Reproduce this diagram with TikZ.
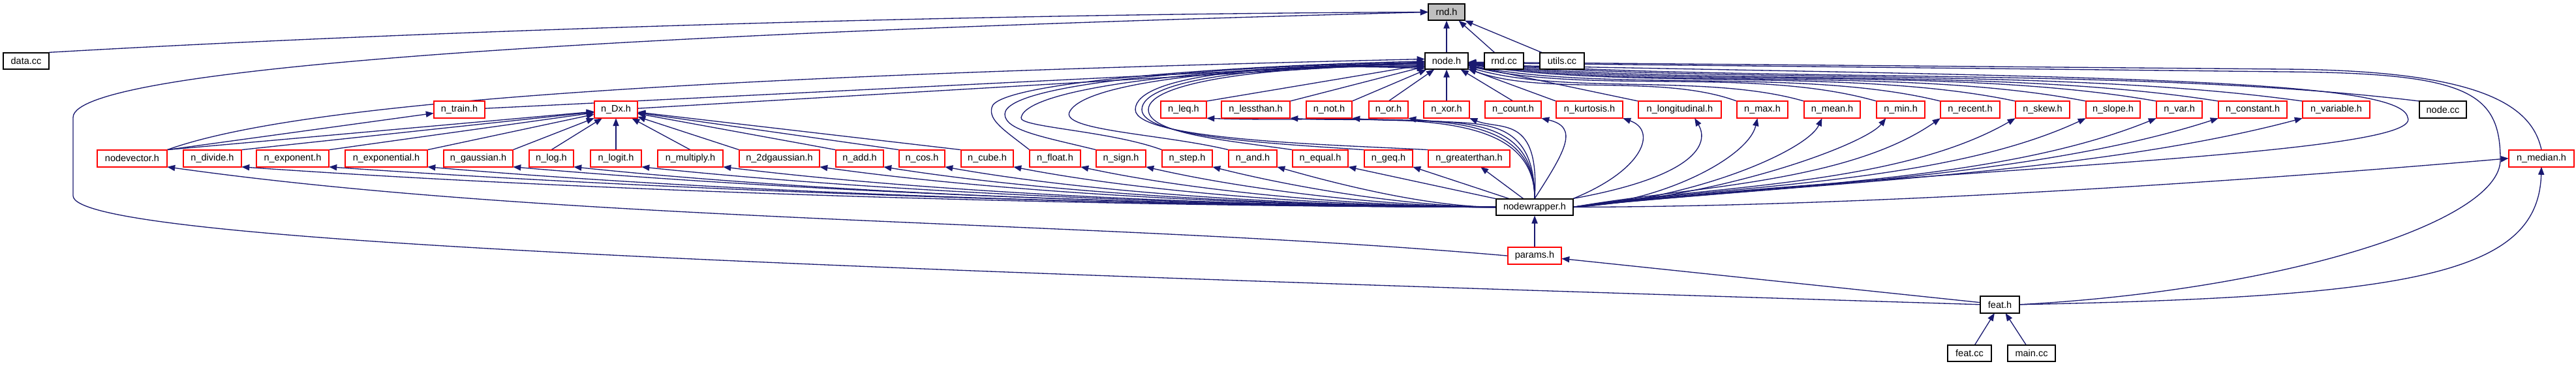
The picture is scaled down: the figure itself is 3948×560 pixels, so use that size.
\documentclass[tikz,border=0pt]{standalone}
\usepackage{fontspec}
\setmainfont{Liberation Sans}
\usepackage{xcolor}
\usepackage{tikz}
\usetikzlibrary{arrows.meta, backgrounds}
\definecolor{edgeblue}{RGB}{25, 25, 112}
\definecolor{rootgray}{RGB}{191, 191, 191}
\tikzset{
  filebox/.style={draw=#1, line width=0.5pt, fill=white, inner sep=0pt,
                  minimum height=25.7pt, font=\fontsize{14.5}{17}\selectfont},
  arr/.style={-{Triangle[length=3pt, width=2.3pt]}, draw=edgeblue, line width=0.33pt},
}

\begin{document}
\begin{tikzpicture}[x=1pt, y=-1pt, scale=0.25, every node/.style={transform shape}]
  \def\rA{18.5} \def\rB{93.4} \def\rC{168.1} \def\rD{242.7}
  \def\rE{317.4} \def\rF{392.1} \def\rG{466.8} \def\rH{541.5}
  \useasboundingbox (0,0) rectangle (3948,560);

  % top rows
  \node[filebox=black, fill=rootgray, minimum width=56] (rndh) at (2217,\rA) {rnd.h};
  \node[filebox=black, minimum width=70] (datacc) at (40,\rB) {data.cc};
  \node[filebox=black, minimum width=66] (nodeh) at (2217,\rB) {node.h};
  \node[filebox=black, minimum width=60] (rndcc) at (2305,\rB) {rnd.cc};
  \node[filebox=black, minimum width=68] (utilscc) at (2394,\rB) {utils.cc};

  \node[filebox=red, minimum width=78] (ntrain) at (704,\rC) {n\_train.h};
  \node[filebox=red, minimum width=66] (ndx) at (944,\rC) {n\_Dx.h};
  \node[filebox=red, minimum width=70] (nleq) at (1814,\rC) {n\_leq.h};
  \node[filebox=red, minimum width=105] (nlessthan) at (1924.5,\rC) {n\_lessthan.h};
  \node[filebox=red, minimum width=70] (nnot) at (2037,\rC) {n\_not.h};
  \node[filebox=red, minimum width=60] (nor) at (2128,\rC) {n\_or.h};
  \node[filebox=red, minimum width=70] (nxor) at (2217,\rC) {n\_xor.h};
  \node[filebox=red, minimum width=86] (ncount) at (2319,\rC) {n\_count.h};
  \node[filebox=red, minimum width=102] (nkurtosis) at (2436,\rC) {n\_kurtosis.h};
  \node[filebox=red, minimum width=127] (nlongitudinal) at (2574.5,\rC) {n\_longitudinal.h};
  \node[filebox=red, minimum width=78] (nmax) at (2701,\rC) {n\_max.h};
  \node[filebox=red, minimum width=86] (nmean) at (2808,\rC) {n\_mean.h};
  \node[filebox=red, minimum width=74] (nmin) at (2913,\rC) {n\_min.h};
  \node[filebox=red, minimum width=91] (nrecent) at (3019.5,\rC) {n\_recent.h};
  \node[filebox=red, minimum width=83] (nskew) at (3130.5,\rC) {n\_skew.h};
  \node[filebox=red, minimum width=83] (nslope) at (3238.5,\rC) {n\_slope.h};
  \node[filebox=red, minimum width=70] (nvar) at (3340,\rC) {n\_var.h};
  \node[filebox=red, minimum width=105] (nconstant) at (3452.5,\rC) {n\_constant.h};
  \node[filebox=red, minimum width=103] (nvariable) at (3580.5,\rC) {n\_variable.h};
  \node[filebox=black, minimum width=72] (nodecc) at (3744,\rC) {node.cc};

  \node[filebox=red, minimum width=107] (nodevector) at (202.5,\rD) {nodevector.h};
  \node[filebox=red, minimum width=89] (ndivide) at (325.5,\rD) {n\_divide.h};
  \node[filebox=red, minimum width=111] (nexponent) at (448.5,\rD) {n\_exponent.h};
  \node[filebox=red, minimum width=126] (nexponential) at (592,\rD) {n\_exponential.h};
  \node[filebox=red, minimum width=106] (ngaussian) at (733,\rD) {n\_gaussian.h};
  \node[filebox=red, minimum width=68] (nlog) at (845,\rD) {n\_log.h};
  \node[filebox=red, minimum width=78] (nlogit) at (944,\rD) {n\_logit.h};
  \node[filebox=red, minimum width=100] (nmultiply) at (1058,\rD) {n\_multiply.h};
  \node[filebox=red, minimum width=123] (ntwodgauss) at (1194.5,\rD) {n\_2dgaussian.h};
  \node[filebox=red, minimum width=73] (nadd) at (1317.5,\rD) {n\_add.h};
  \node[filebox=red, minimum width=70] (ncos) at (1413,\rD) {n\_cos.h};
  \node[filebox=red, minimum width=80] (ncube) at (1513,\rD) {n\_cube.h};
  \node[filebox=red, minimum width=78] (nfloat) at (1617,\rD) {n\_float.h};
  \node[filebox=red, minimum width=76] (nsign) at (1718,\rD) {n\_sign.h};
  \node[filebox=red, minimum width=77] (nstep) at (1819.5,\rD) {n\_step.h};
  \node[filebox=red, minimum width=74] (nand) at (1920,\rD) {n\_and.h};
  \node[filebox=red, minimum width=85] (nequal) at (2023.5,\rD) {n\_equal.h};
  \node[filebox=red, minimum width=74] (ngeq) at (2128,\rD) {n\_geq.h};
  \node[filebox=red, minimum width=125] (ngreaterthan) at (2251.5,\rD) {n\_greaterthan.h};
  \node[filebox=red, minimum width=100] (nmedian) at (3895,\rD) {n\_median.h};

  % lower part
  \node[filebox=black, minimum width=118] (nwrap) at (2352,\rE) {nodewrapper.h};
  \node[filebox=red, minimum width=82] (params) at (2352,\rF) {params.h};
  \node[filebox=black, minimum width=60] (feath) at (3065,\rG) {feat.h};
  \node[filebox=black, minimum width=67] (featcc) at (3018.5,\rH) {feat.cc};
  \node[filebox=black, minimum width=73] (maincc) at (3113.5,\rH) {main.cc};

  \begin{scope}[on background layer]
  \fill[white] (0,0) rectangle (3948,560);

  % who includes rnd.h
  \draw[arr] (nodeh) -- (rndh);
  \draw[arr] (rndcc) -- (rndh.-35);
  \draw[arr] (utilscc) -- (rndh.south east);
  \draw[arr] (datacc.north east) .. controls (600,50) and (1400,22) .. (rndh.west);
  \draw[arr] (feath.west) .. controls (1200,410) and (112,370) .. (112,300)
    -- (112,180) .. controls (112,100) and (1000,50) .. (rndh.west);

  % who includes node.h
  \draw[arr] (nodevector.north east) .. controls (450,160) and (1000,118) .. (nodeh.175);
  \draw[arr] (ntrain) -- (nodeh);
  \draw[arr] (ndx) -- (nodeh);
  \draw[arr] (nleq.north east) -- (nodeh);
  \draw[arr] (nlessthan.north east) -- (nodeh);
  \draw[arr] (nnot.north east) -- (nodeh);
  \draw[arr] (nor.north) -- (nodeh);
  \draw[arr] (nxor) -- (nodeh);
  \draw[arr] (ncount.north) -- (nodeh);
  \draw[arr] (nkurtosis.north west) -- (nodeh);
  \draw[arr] (nlongitudinal.north west) -- (nodeh);
  \draw[arr] (nmax.north west) .. controls (2545,112) and (2367,148) .. (nodeh.-20);
  \draw[arr] (nmean.north west) .. controls (2616,112) and (2399,146) .. (nodeh.-16);
  \draw[arr] (nmin.north west) .. controls (2690,102) and (2439,145) .. (nodeh.-13);
  \draw[arr] (nrecent.north west) .. controls (2763,103) and (2464,142) .. (nodeh.-11);
  \draw[arr] (nskew.north west) .. controls (2843,103) and (2499,138) .. (nodeh.-9);
  \draw[arr] (nslope.north west) .. controls (2917,101) and (2532,138) .. (nodeh.-8);
  \draw[arr] (nvar.north west) .. controls (2993,100) and (2565,136) .. (nodeh.-7);
  \draw[arr] (nconstant.north west) .. controls (3059,101) and (2593,133) .. (nodeh.-6);
  \draw[arr] (nvariable.north west) .. controls (3149,102) and (2632,129) .. (nodeh.-5);
  \draw[arr] (nodecc.north west) .. controls (3273,102) and (2687,127) .. (nodeh.-4);
  \draw[arr] (nfloat.north west) .. controls (1540,200) and (1515,185) .. (1520,165)
    .. controls (1525,125) and (1900,100) .. (nodeh.181);
  \draw[arr] (nsign.north west) .. controls (1600,210) and (1540,200) .. (1540,175)
    .. controls (1540,125) and (1900,100) .. (nodeh.184);
  \draw[arr] (nstep.north west) .. controls (1700,200) and (1560,195) .. (1565,180)
    .. controls (1575,130) and (1900,100) .. (nodeh.187);
  \draw[arr] (nand.north west) .. controls (1780,205) and (1620,200) .. (1640,170)
    .. controls (1670,120) and (1950,100) .. (nodeh.190);
  \draw[arr] (nequal.north west) .. controls (1880,215) and (1760,205) .. (1760,168)
    .. controls (1760,125) and (1950,100) .. (nodeh.193);
  \draw[arr] (ngeq.north west) .. controls (1950,220) and (1750,210) .. (1750,168)
    .. controls (1750,120) and (1950,98) .. (nodeh.196);
  \draw[arr] (ngreaterthan.north west) .. controls (2050,222) and (1740,215) .. (1740,168)
    .. controls (1740,115) and (1950,96) .. (nodeh.199);
  \draw[arr] (nmedian.north) .. controls (3880,160) and (3800,108) .. (3500,106) -- (nodeh.-3);
  \draw[arr] (feath.east) .. controls (3500,445) and (3832,340) .. (3832,245)
    .. controls (3832,140) and (3780,112) .. (3500,110) -- (nodeh.-5);
  \draw[arr] (nwrap.east) .. controls (2900,260) and (3720,240) .. (3690,180)
    .. controls (3680,120) and (3200,118) .. (nodeh.-10);

  % who includes n_Dx.h and n_train.h
  \draw[arr] (nodevector.north east) -- (ntrain);
  \draw[arr] (nodevector.north east) -- (ndx);
  \draw[arr] (ndivide.north east) -- (ndx);
  \draw[arr] (nexponent.north east) -- (ndx);
  \draw[arr] (nexponential.north east) -- (ndx);
  \draw[arr] (ngaussian.north east) -- (ndx);
  \draw[arr] (nlog.north) -- (ndx);
  \draw[arr] (nlogit) -- (ndx);
  \draw[arr] (nmultiply.north) -- (ndx);
  \draw[arr] (ntwodgauss.north west) -- (ndx);
  \draw[arr] (nadd.north west) -- (ndx);
  \draw[arr] (ncos.north west) -- (ndx);
  \draw[arr] (ncube.north west) -- (ndx);

  % what nodewrapper.h pulls in
  \draw[arr] (nwrap.west) .. controls (1716,317) and (945,296) .. (ndivide.south east);
  \draw[arr] (nwrap.west) .. controls (1756,317) and (1040,293) .. (nexponent.south east);
  \draw[arr] (nwrap.west) .. controls (1801,317) and (1145,298) .. (nexponential.south east);
  \draw[arr] (nwrap.west) .. controls (1841,317) and (1236,295) .. (ngaussian.south east);
  \draw[arr] (nwrap.west) .. controls (1868,317) and (1302,300) .. (nlog.south east);
  \draw[arr] (nwrap.west) .. controls (1900,317) and (1374,297) .. (nlogit.south east);
  \draw[arr] (nwrap.west) .. controls (1937,317) and (1461,299) .. (nmultiply.south east);
  \draw[arr] (nwrap.west) .. controls (1981,317) and (1565,299) .. (ntwodgauss.south east);
  \draw[arr] (nwrap.west) .. controls (2011,317) and (1633,300) .. (nadd.south east);
  \draw[arr] (nwrap.west) .. controls (2039,317) and (1698,300) .. (ncos.south east);
  \draw[arr] (nwrap.west) .. controls (2070,317) and (1772,298) .. (ncube.south east);
  \draw[arr] (nwrap.west) .. controls (2101,317) and (1844,296) .. (nfloat.south east);
  \draw[arr] (nwrap.west) .. controls (2131,317) and (1914,292) .. (nsign.south east);
  \draw[arr] (nwrap.west) .. controls (2161,317) and (1986,288) .. (nstep.south east);
  \draw[arr] (nwrap.west) .. controls (2190,317) and (2056,284) .. (nand.south east);
  \draw[arr] (nwrap) -- (nequal.south east);
  \draw[arr] (nwrap) -- (ngeq.south east);
  \draw[arr] (nwrap) -- (ngreaterthan);
  \draw[arr] (nwrap.north) .. controls (2352,150) and (2100,190) .. (nleq.south east);
  \draw[arr] (nwrap.north) .. controls (2352,155) and (2150,190) .. (nlessthan.south east);
  \draw[arr] (nwrap.north) .. controls (2352,160) and (2200,192) .. (nnot.south east);
  \draw[arr] (nwrap.north) .. controls (2352,165) and (2250,195) .. (nor.south east);
  \draw[arr] (nwrap.north) .. controls (2360,175) and (2300,200) .. (nxor.south east);
  \draw[arr] (nwrap.north) .. controls (2400,230) and (2420,195) .. (ncount.south east);
  \draw[arr] (nwrap.north east) .. controls (2520,260) and (2540,200) .. (nkurtosis.south east);
  \draw[arr] (nwrap.north east) .. controls (2600,270) and (2620,220) .. (nlongitudinal.-30);
  \draw[arr] (nwrap.east) .. controls (2550,310) and (2680,240) .. (nmax.-120);
  \draw[arr] (nwrap.east) .. controls (2600,305) and (2770,230) .. (nmean.-140);
  \draw[arr] (nwrap.east) .. controls (2650,300) and (2860,220) .. (nmin.-150);
  \draw[arr] (nwrap.east) .. controls (2582,287) and (2831,281) .. (nrecent.south west);
  \draw[arr] (nwrap.east) .. controls (2616,285) and (2909,285) .. (nskew.south west);
  \draw[arr] (nwrap.east) .. controls (2648,284) and (2980,282) .. (nslope.south west);
  \draw[arr] (nwrap.east) .. controls (2680,284) and (3054,283) .. (nvar.south west);
  \draw[arr] (nwrap.east) .. controls (2708,286) and (3116,273) .. (nconstant.south west);
  \draw[arr] (nwrap.east) .. controls (2747,282) and (3203,268) .. (nvariable.south west);
  \draw[arr] (nwrap.east) .. controls (2842,317) and (3416,280) .. (nmedian.west);

  % params.h, feat.h and the sources below
  \draw[arr] (params) -- (nwrap);
  \draw[arr] (params.west) .. controls (1695,338) and (868,342) .. (nodevector.south east);
  \draw[arr] (feath) -- (params);
  \draw[arr] (feath.east) .. controls (3700,455) and (3890,420) .. (nmedian.south);
  \draw[arr] (featcc) -- (feath);
  \draw[arr] (maincc) -- (feath);
  \end{scope}
\end{tikzpicture}
\end{document}
